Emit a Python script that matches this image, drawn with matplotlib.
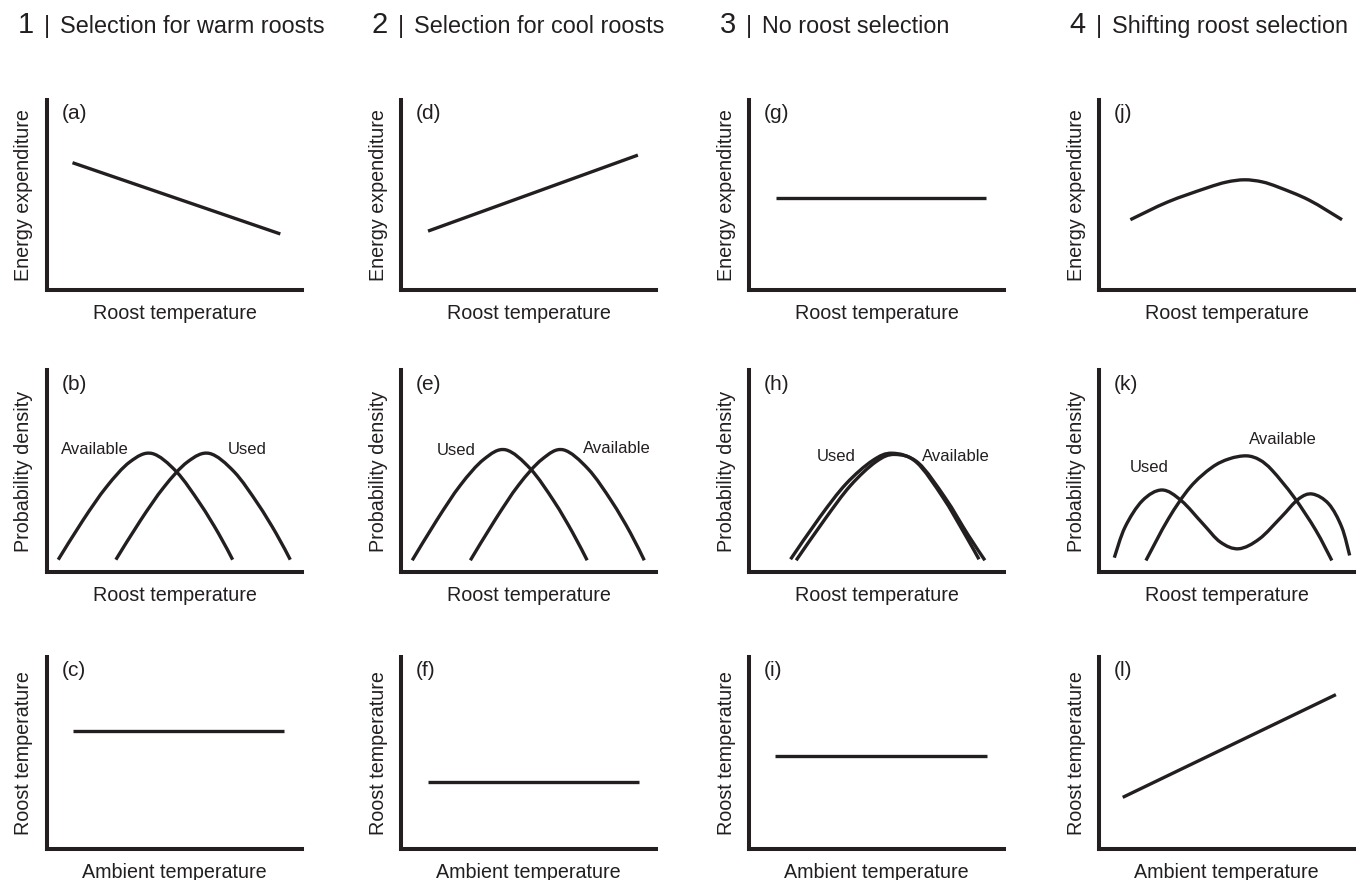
import matplotlib.pyplot as plt
import numpy as np
from matplotlib.path import Path
from matplotlib.patches import PathPatch

ANCHO, ALTO = 1362, 880
COLOR = "#231f20"
FUENTE = ["Liberation Sans", "DejaVu Sans"]

# Títulos de las columnas
numeros_columna = ["1", "2", "3", "4"]
titulos_columna = [
    "Selection for warm roosts",
    "Selection for cool roosts",
    "No roost selection",
    "Shifting roost selection",
]

# Letras de cada panel (columna, fila)
letras_panel = [
    ["(a)", "(b)", "(c)"],
    ["(d)", "(e)", "(f)"],
    ["(g)", "(h)", "(i)"],
    ["(j)", "(k)", "(l)"],
]

etiquetas_y = ["Energy expenditure", "Probability density", "Roost temperature"]
etiquetas_x = ["Roost temperature", "Roost temperature", "Ambient temperature"]

# Fila 1: gasto energético frente a temperatura del refugio (% del eje)
gasto_a_x = [10.0, 91.5]
gasto_a_y = [67.0, 29.5]
gasto_d_x = [10.6, 92.9]
gasto_d_y = [31.0, 71.0]
gasto_g_x = [10.4, 93.0]
gasto_g_y = [48.3, 48.3]
gasto_j_x = [12.3, 26.9, 42.0, 50.0, 57.1, 64.0, 70.6, 82.4, 95.3]
gasto_j_y = [37.0, 46.3, 53.6, 56.8, 58.0, 56.9, 54.0, 47.3, 37.0]

# Fila 2: densidad de probabilidad (disponible / usado)
disp_b_x = [4.4, 14.1, 23.3, 32.5, 41.1, 50.8, 60.0, 67.3, 72.8]
disp_b_y = [6.1, 25.6, 42.1, 54.5, 58.7, 49.6, 33.9, 19.0, 6.1]
usado_b_x = [27.0, 36.7, 45.9, 55.1, 63.7, 73.4, 82.6, 89.9, 95.4]
usado_b_y = [6.1, 25.6, 42.1, 54.5, 58.7, 49.6, 33.9, 19.0, 6.1]

usado_e_x = [4.4, 14.1, 23.3, 32.5, 41.0, 50.8, 60.0, 67.3, 73.0]
usado_e_y = [5.8, 25.8, 43.0, 55.8, 60.5, 51.0, 35.0, 19.5, 5.8]
disp_e_x = [27.2, 36.9, 46.1, 55.3, 63.6, 73.4, 82.6, 89.9, 95.4]
disp_e_y = [5.8, 25.8, 43.0, 55.8, 60.5, 51.0, 35.0, 19.5, 5.8]

usado_h_x = [16.3, 27.8, 38.1, 48.5, 56.2, 65.6, 76.0, 84.5, 90.2]
usado_h_y = [6.3, 27.2, 43.7, 55.2, 58.8, 54.4, 37.0, 19.0, 6.3]
disp_h_x = [18.5, 29.8, 39.8, 49.8, 57.2, 66.4, 77.0, 85.8, 92.5]
disp_h_y = [5.8, 26.2, 42.8, 54.6, 58.2, 54.0, 36.6, 18.6, 5.8]

disp_k_x = [18.4, 27.2, 35.7, 44.2, 51.0, 57.8, 63.0, 68.0, 76.5, 85.0, 91.3]
disp_k_y = [5.7, 26.3, 41.9, 51.7, 56.0, 57.5, 55.5, 50.2, 37.0, 20.7, 5.7]
usado_k_x = [6.0, 10.2, 17.0, 24.7, 32.3, 40.8, 47.6, 54.8, 62.9, 71.4, 78.2,
             83.7, 90.1, 95.2, 98.3]
usado_k_y = [7.1, 22.2, 35.3, 40.6, 35.3, 23.8, 14.8, 11.5, 16.4, 27.1, 36.1,
             38.6, 33.7, 22.2, 8.2]

# Etiquetas de las curvas: (texto, x, y) en % del eje
textos_b = [("Available", 18.7, 60.8), ("Used", 78.5, 60.8)]
textos_e = [("Used", 21.6, 60.2), ("Available", 84.5, 61.0)]
textos_h = [("Used", 34.2, 57.2), ("Available", 81.1, 57.2)]
textos_k = [("Available", 72.1, 65.5), ("Used", 19.7, 51.7)]

# Fila 3: temperatura del refugio frente a temperatura ambiente
refugio_c_x = [10.0, 93.0]
refugio_c_y = [61.4, 61.4]
refugio_f_x = [10.6, 93.5]
refugio_f_y = [34.7, 34.7]
refugio_i_x = [10.1, 93.3]
refugio_i_y = [48.4, 48.4]
refugio_l_x = [9.3, 92.9]
refugio_l_y = [26.9, 80.4]

# Posición de los paneles en píxeles
columnas_x0 = [47, 401, 749, 1099]
ancho_panel = 255
filas_y = [(100, 290), (370, 572), (657, 849)]


def curva_suave(ax, xs, ys):
    """
    Dibuja una curva suave (Catmull-Rom) que pasa por los puntos leídos.
    """
    pts = np.column_stack([xs, ys]).astype(float)
    if len(pts) == 2:
        ax.plot(xs, ys, color=COLOR, lw=2.4, solid_capstyle="butt")
        return
    p = np.vstack([pts[0], pts, pts[-1]])
    verts = [pts[0]]
    codes = [Path.MOVETO]
    for i in range(1, len(p) - 2):
        p0, p1, p2, p3 = p[i - 1], p[i], p[i + 1], p[i + 2]
        c1 = p1 + (p2 - p0) / 6.0
        c2 = p2 - (p3 - p1) / 6.0
        verts += [c1, c2, p2]
        codes += [Path.CURVE4] * 3
    ax.add_patch(
        PathPatch(Path(verts, codes), fill=False, lw=2.4, edgecolor=COLOR,
                  capstyle="butt")
    )


def crear_panel(fig, col, fila):
    top, bottom = filas_y[fila]
    x0 = columnas_x0[col]
    alto = bottom - top
    ax = fig.add_axes(
        [x0 / ANCHO, 1 - bottom / ALTO, ancho_panel / ANCHO, alto / ALTO]
    )
    ax.set_xlim(0, 100)
    ax.set_ylim(0, 100)
    ax.set_xticks([])
    ax.set_yticks([])
    ax.patch.set_alpha(0)
    for lado in ["top", "right"]:
        ax.spines[lado].set_visible(False)
    for lado in ["left", "bottom"]:
        ax.spines[lado].set_linewidth(2.9)
        ax.spines[lado].set_color(COLOR)

    # Etiquetas de ejes y letra del panel
    ax.text(-23 / ancho_panel, 0.5, etiquetas_y[fila], rotation=90,
            ha="center", va="center", transform=ax.transAxes,
            fontsize=14.2, color=COLOR, family=FUENTE)
    ax.text(0.5, -23 / alto, etiquetas_x[fila], ha="center", va="center",
            transform=ax.transAxes, fontsize=14.2, color=COLOR, family=FUENTE)
    ax.text(15 / ancho_panel, 0.93, letras_panel[col][fila], ha="left",
            va="center", transform=ax.transAxes, fontsize=15, color=COLOR,
            family=FUENTE)
    return ax


def poner_textos(ax, textos):
    for texto, x, y in textos:
        ax.text(x, y, texto, ha="center", va="center", fontsize=12,
                color=COLOR, family=FUENTE)


fig = plt.figure(figsize=(ANCHO / 100, ALTO / 100), dpi=100)

# Títulos de columna
for col in range(4):
    x0 = columnas_x0[col]
    fig.text((x0 - 13) / ANCHO, 1 - 33 / ALTO, numeros_columna[col],
             ha="right", va="baseline", fontsize=21, color=COLOR, family=FUENTE)
    fig.text(x0 / ANCHO, 1 - 33 / ALTO, "|", ha="center", va="baseline",
             fontsize=16.8, color=COLOR, family=FUENTE)
    fig.text((x0 + 13) / ANCHO, 1 - 33 / ALTO, titulos_columna[col],
             ha="left", va="baseline", fontsize=16.8, color=COLOR,
             family=FUENTE)

# Columna 1
ax = crear_panel(fig, 0, 0)
curva_suave(ax, gasto_a_x, gasto_a_y)
ax = crear_panel(fig, 0, 1)
curva_suave(ax, disp_b_x, disp_b_y)
curva_suave(ax, usado_b_x, usado_b_y)
poner_textos(ax, textos_b)
ax = crear_panel(fig, 0, 2)
curva_suave(ax, refugio_c_x, refugio_c_y)

# Columna 2
ax = crear_panel(fig, 1, 0)
curva_suave(ax, gasto_d_x, gasto_d_y)
ax = crear_panel(fig, 1, 1)
curva_suave(ax, usado_e_x, usado_e_y)
curva_suave(ax, disp_e_x, disp_e_y)
poner_textos(ax, textos_e)
ax = crear_panel(fig, 1, 2)
curva_suave(ax, refugio_f_x, refugio_f_y)

# Columna 3
ax = crear_panel(fig, 2, 0)
curva_suave(ax, gasto_g_x, gasto_g_y)
ax = crear_panel(fig, 2, 1)
curva_suave(ax, usado_h_x, usado_h_y)
curva_suave(ax, disp_h_x, disp_h_y)
poner_textos(ax, textos_h)
ax = crear_panel(fig, 2, 2)
curva_suave(ax, refugio_i_x, refugio_i_y)

# Columna 4
ax = crear_panel(fig, 3, 0)
curva_suave(ax, gasto_j_x, gasto_j_y)
ax = crear_panel(fig, 3, 1)
curva_suave(ax, disp_k_x, disp_k_y)
curva_suave(ax, usado_k_x, usado_k_y)
poner_textos(ax, textos_k)
ax = crear_panel(fig, 3, 2)
curva_suave(ax, refugio_l_x, refugio_l_y)

plt.savefig("out.png", dpi=100)
